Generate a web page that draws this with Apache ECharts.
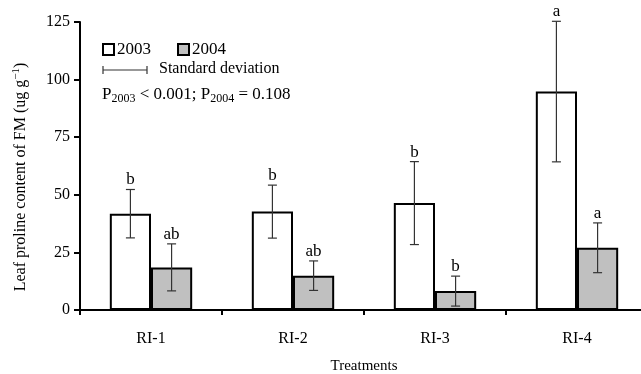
<!DOCTYPE html>
<html><head><meta charset="utf-8">
<script src="https://cdn.jsdelivr.net/npm/echarts@6/dist/echarts.min.js"></script>
<style>html,body{margin:0;padding:0;background:#fff}#c{width:641px;height:374px}</style>
</head><body><div id="c"></div>
<script>
const categories = ['RI-1', 'RI-2', 'RI-3', 'RI-4'];
const mean2003 = [41.8, 42.7, 46.4, 94.8];
const sd2003 = [10.5, 11.5, 18.0, 30.5];
const letters2003 = ['b', 'b', 'b', 'a'];
const mean2004 = [18.5, 14.9, 8.2, 27.0];
const sd2004 = [10.2, 6.4, 6.5, 10.8];
const letters2004 = ['ab', 'ab', 'b', 'a'];
const yTicks = [0, 25, 50, 75, 100, 125];

const FONT = '"Liberation Serif","Times New Roman",serif';
const BAR_RATIO = 0.29;

function errData(means, sds, letters) {
  return means.map((m, i) => [i, m - sds[i], m + sds[i], letters[i]]);
}
function errSeries(name, means, sds, letters, side) {
  return {
    type: 'custom', name: name + ' sd', z: 10, silent: true,
    data: errData(means, sds, letters),
    encode: { x: 0, y: [1, 2] },
    renderItem: function (params, api) {
      const idx = api.value(0);
      const band = api.size([1, 0])[0];
      const off = side * band * BAR_RATIO / 2;
      const lo = api.coord([idx, api.value(1)]);
      const hi = api.coord([idx, api.value(2)]);
      const x = lo[0] + off;
      const cap = 4.5;
      const st = { stroke: '#333', lineWidth: 1.2 };
      return {
        type: 'group', children: [
          { type: 'line', shape: { x1: x, y1: lo[1], x2: x, y2: hi[1] }, style: st },
          { type: 'line', shape: { x1: x - cap, y1: lo[1], x2: x + cap, y2: lo[1] }, style: st },
          { type: 'line', shape: { x1: x - cap, y1: hi[1], x2: x + cap, y2: hi[1] }, style: st },
          { type: 'text', x: x, y: hi[1] - 1, style: { text: api.value(3), fill: '#000', font: '17px ' + FONT, textAlign: 'center', textVerticalAlign: 'bottom' } }
        ]
      };
    }
  };
}

const chart = echarts.init(document.getElementById('c'), null, { renderer: 'canvas' });
chart.setOption({
  animation: false,
  backgroundColor: '#fff',
  textStyle: { fontFamily: FONT },
  grid: { left: 80, right: -7, top: 22, bottom: 64, containLabel: false, outerBoundsMode: 'none' },
  legend: {
    left: 97, top: 36, itemWidth: 11, itemHeight: 11, itemGap: 26,
    data: ['2003', '2004'],
    textStyle: { fontFamily: FONT, fontSize: 17, color: '#000', padding: [0, 0, 0, -2] },
    icon: 'rect'
  },
  xAxis: {
    type: 'category', data: categories,
    axisLine: { lineStyle: { color: '#000', width: 2 } },
    axisTick: { show: true, length: 5, lineStyle: { color: '#000', width: 2 } },
    axisLabel: { color: '#000', fontSize: 16, fontFamily: FONT, margin: 21 },
    name: 'Treatments', nameLocation: 'middle', nameGap: 49,
    nameTextStyle: { color: '#000', fontSize: 15, fontFamily: FONT }
  },
  yAxis: {
    type: 'value', min: 0, max: 125, interval: 25,
    axisLine: { show: true, lineStyle: { color: '#000', width: 2 } },
    axisTick: { show: true, length: 6, lineStyle: { color: '#000', width: 2 } },
    axisLabel: { color: '#000', fontSize: 16, fontFamily: FONT, margin: 10 },
    splitLine: { show: false }
  },
  graphic: [
    { type: 'line', shape: { x1: 103, y1: 70, x2: 147, y2: 70 }, style: { stroke: '#333', lineWidth: 1.2 } },
    { type: 'line', shape: { x1: 103, y1: 66, x2: 103, y2: 74 }, style: { stroke: '#333', lineWidth: 1.2 } },
    { type: 'line', shape: { x1: 147, y1: 66, x2: 147, y2: 74 }, style: { stroke: '#333', lineWidth: 1.2 } },
    { type: 'text', left: 159, top: 61, style: { text: 'Standard deviation', font: '16px ' + FONT, fill: '#000' } },
    { type: 'text', left: 102, top: 86, style: {
      text: '{a|P}{s|2003}{a| < 0.001; P}{s|2004}{a| = 0.108}',
      rich: { a: { fontFamily: FONT, fontSize: 17, color: '#000' },
              s: { fontFamily: FONT, fontSize: 12, color: '#000', padding: [9, 0, 0, 0] } } } },
    { type: 'text', x: 21, y: 177, rotation: Math.PI / 2, style: {
      text: '{a|Leaf proline content of FM (ug g}{s|−1}{a|)}', align: 'center', verticalAlign: 'middle',
      rich: { a: { fontFamily: FONT, fontSize: 16, color: '#000' },
              s: { fontFamily: FONT, fontSize: 11, color: '#000', padding: [0, 0, 9, 0] } } } }
  ],
  series: [
    { name: '2003', type: 'bar', data: mean2003, barWidth: (BAR_RATIO * 100) + '%', barGap: '0%',
      itemStyle: { color: '#fff', borderColor: '#000', borderWidth: 2 } },
    { name: '2004', type: 'bar', data: mean2004, barWidth: (BAR_RATIO * 100) + '%', barGap: '0%',
      itemStyle: { color: '#c0c0c0', borderColor: '#000', borderWidth: 2 } },
    errSeries('2003', mean2003, sd2003, letters2003, -1),
    errSeries('2004', mean2004, sd2004, letters2004, 1)
  ]
});
</script></body></html>
